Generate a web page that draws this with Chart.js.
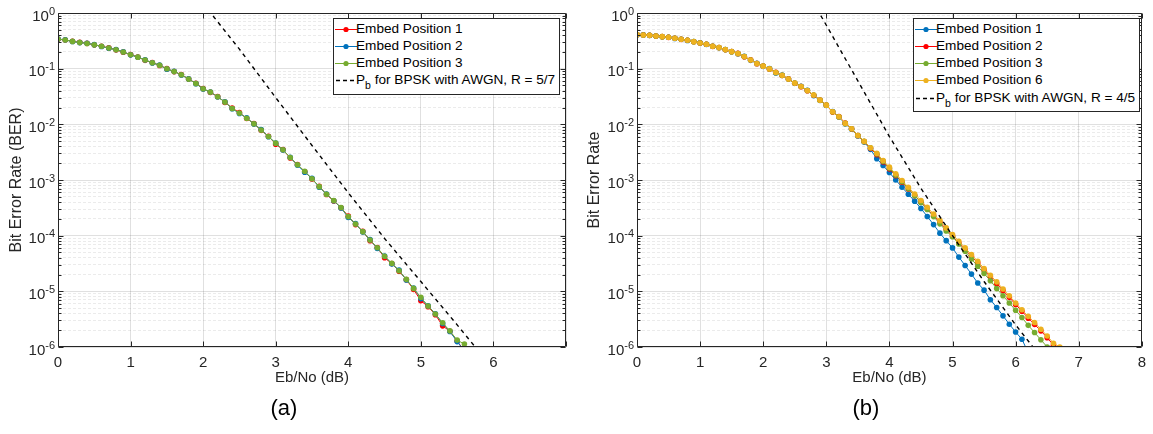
<!DOCTYPE html>
<html><head><meta charset="utf-8">
<script src="https://cdn.jsdelivr.net/npm/chart.js@4.4.1/dist/chart.umd.min.js"></script>
<style>
html,body{margin:0;padding:0;background:#fff;}
body{width:1153px;height:434px;position:relative;overflow:hidden;font-family:"Liberation Sans",Arial,sans-serif;}
canvas{position:absolute;top:0;}
.lg{position:absolute;background:#fff;border:1px solid #262626;box-sizing:border-box;}
.row{position:absolute;left:0;height:18px;line-height:18px;font-size:13.6px;color:#000;white-space:nowrap;}
.row svg{position:absolute;left:1px;top:0;}
.row .t{position:absolute;left:22px;top:0;}
.row sub{font-size:10.5px;vertical-align:baseline;position:relative;top:5px;}
.cap{position:absolute;top:395px;width:100px;text-align:center;font-size:22px;color:#000;}
</style></head><body>
<canvas id="ca" width="576" height="434" style="left:0"></canvas>
<canvas id="cb" width="575" height="434" style="left:578px"></canvas>
<div id="lgA" class="lg" style="left:333px;top:18px;width:227px;height:77px"></div>
<div id="lgB" class="lg" style="left:913px;top:18px;width:227px;height:94px"></div>
<div class="cap" style="left:234px">(a)</div>
<div class="cap" style="left:816px">(b)</div>
<script>
// ---------- DATA: panel (a) ----------
const ebnoA = [0,0.1,0.2,0.3,0.4,0.5,0.6,0.7,0.8,0.9,1,1.1,1.2,1.3,1.4,1.5,1.6,1.7,1.8,1.9,2,2.1,2.2,2.3,2.4,2.5,2.6,2.7,2.8,2.9,3,3.1,3.2,3.3,3.4,3.5,3.6,3.7,3.8,3.9,4,4.1,4.2,4.3,4.4,4.5,4.6,4.7,4.8,4.9,5,5.1,5.2,5.3,5.4,5.5,5.6];
const berA_pos1 = [0.338,0.328,0.311,0.297,0.285,0.268,0.252,0.236,0.218,0.198,
0.179,0.162,0.141,0.129,0.114,0.1,0.0885,0.0782,0.0652,0.0545,
0.0438,0.0375,0.0317,0.0248,0.0196,0.0163,0.0127,0.0103,0.0078,0.00612,
0.0044,0.00352,0.00248,0.0019,0.00141,0.00104,0.00077,0.000548,0.00042,0.000318,
0.000224,0.000158,0.00012,8.1e-5,6.1e-5,4.0e-5,3.15e-5,2.3e-5,1.62e-5,1.08e-5,
6.8e-6,5.3e-6,3.8e-6,2.4e-6,1.92e-6,1.28e-6,8.5e-7];
const berA_pos2 = [0.341,0.33,0.307,0.294,0.287,0.27,0.25,0.232,0.221,0.201,
0.177,0.16,0.144,0.127,0.116,0.098,0.0895,0.077,0.0655,0.0538,
0.0432,0.0382,0.031,0.0254,0.0191,0.0157,0.0131,0.0101,0.0081,0.00598,
0.00462,0.00345,0.00256,0.00184,0.00138,0.00107,0.00074,0.00056,0.000425,0.000315,
0.000212,0.000165,0.000116,8.5e-5,5.9e-5,4.3e-5,3.1e-5,2.4e-5,1.6e-5,1.15e-5,
7.4e-6,5.5e-6,3.95e-6,2.65e-6,1.9e-6,1.25e-6,8.5e-7];
const berA_pos3 = [0.34,0.327,0.309,0.296,0.284,0.268,0.253,0.234,0.219,0.199,
0.178,0.161,0.143,0.128,0.115,0.0995,0.0891,0.0776,0.0649,0.0543,
0.0435,0.0379,0.0313,0.0251,0.0193,0.0159,0.0129,0.0102,0.00787,0.00604,
0.00459,0.00348,0.00253,0.00187,0.00144,0.00105,0.00076,0.000555,0.000427,0.00032,
0.00022,0.000162,0.000118,8.38e-5,6.08e-5,4.26e-5,3.19e-5,2.35e-5,1.64e-5,1.13e-5,
7.8e-6,5.45e-6,3.91e-6,2.72e-6,1.95e-6,1.33e-6,1.13e-6];
const theoryA_x = [2.0,2.5,3.0,3.5,4.0,4.5,5.0,5.5,5.8];
const theoryA_y = [1.48,0.224,0.0302,0.00417,0.000589,8.91e-5,1.5e-5,2.5e-6,8.3e-7];

// ---------- DATA: panel (b) ----------
const ebnoB = [0,0.1,0.2,0.3,0.4,0.5,0.6,0.7,0.8,0.9,1,1.1,1.2,1.3,1.4,1.5,1.6,1.7,1.8,1.9,2,2.1,2.2,2.3,2.4,2.5,2.6,2.7,2.8,2.9,3,3.1,3.2,3.3,3.4,3.5,3.6,3.7,3.8,3.9,4,4.1,4.2,4.3,4.4,4.5,4.6,4.7,4.8,4.9,5,5.1,5.2,5.3,5.4,5.5,5.6,5.7,5.8,5.9,6,6.1,6.2,6.3,6.4,6.5,6.6,6.7];
const berB_pos1 = [0.407,0.404,0.396,0.387,0.375,0.367,0.35,0.338,0.322,0.307,
0.291,0.273,0.253,0.238,0.221,0.201,0.186,0.166,0.141,0.125,
0.11,0.1,0.084,0.0765,0.065,0.0545,0.0483,0.041,0.0328,0.0268,
0.0218,0.017,0.0135,0.0102,0.0082,0.0062,0.0048,0.00355,0.00242,0.00182,
0.00136,0.001,0.000741,0.000555,0.000417,0.000309,0.000221,0.000158,0.000111,8.13e-5,
6.03e-5,4.12e-5,2.92e-5,2.04e-5,1.41e-5,1.05e-5,7.08e-6,5.13e-6,3.63e-6,2.57e-6,
1.86e-6,1.38e-6,7.9e-7];
const berB_pos2 = [0.409,0.402,0.398,0.385,0.377,0.365,0.352,0.336,0.324,0.305,
0.289,0.275,0.251,0.24,0.219,0.203,0.188,0.164,0.144,0.123,
0.112,0.098,0.086,0.0755,0.0655,0.0548,0.0475,0.0402,0.0332,0.0274,
0.0223,0.0166,0.0138,0.0105,0.0083,0.0063,0.00492,0.0037,0.00285,0.0021,
0.00158,0.0012,0.00091,0.00069,0.000525,0.0004,0.000302,0.000229,0.000174,0.00013,
9.8e-5,7.4e-5,5.6e-5,4.25e-5,3.22e-5,2.4e-5,1.82e-5,1.38e-5,1.03e-5,7.8e-6,
5.8e-6,4.4e-6,3.3e-6,2.55e-6,1.95e-6,1.47e-6,1.08e-6,8.0e-7];
const berB_pos3 = [0.408,0.403,0.397,0.386,0.376,0.366,0.351,0.337,0.323,0.306,
0.29,0.274,0.252,0.239,0.22,0.202,0.187,0.165,0.143,0.124,
0.111,0.0991,0.0851,0.0759,0.0653,0.055,0.0479,0.0405,0.0335,0.0272,
0.0221,0.0168,0.0137,0.0104,0.00834,0.00632,0.00494,0.0038,0.00295,0.00218,
0.00163,0.00123,0.00093,0.0007,0.000525,0.000395,0.000295,0.00022,0.000163,0.000121,
9.55e-5,7.08e-5,5.25e-5,3.8e-5,2.82e-5,2.09e-5,1.55e-5,1.12e-5,8.32e-6,6.17e-6,
4.57e-6,3.39e-6,2.45e-6,1.82e-6,1.35e-6,1.0e-6];
const berB_pos6 = [0.408,0.403,0.397,0.386,0.376,0.366,0.351,0.337,0.323,0.306,
0.29,0.274,0.252,0.239,0.22,0.202,0.187,0.165,0.143,0.124,
0.111,0.0991,0.0851,0.0759,0.0653,0.055,0.0479,0.0405,0.0335,0.0272,
0.0221,0.0168,0.0137,0.0104,0.00834,0.00632,0.00494,0.0038,0.00302,0.00224,
0.0017,0.00129,0.000977,0.000741,0.000562,0.000427,0.000324,0.000245,0.000186,0.000138,
0.000105,7.94e-5,6.03e-5,4.57e-5,3.47e-5,2.57e-5,1.95e-5,1.48e-5,1.1e-5,8.32e-6,
6.17e-6,4.68e-6,3.55e-6,2.75e-6,2.09e-6,1.58e-6,1.17e-6,1.0e-6];
const theoryB_x = [2.85,3.0,3.5,4.0,4.5,5.0,5.5,6.0,6.3];
const theoryB_y = [1.2,0.603,0.0603,0.00603,0.000708,1.0e-4,1.5e-5,2.5e-6,9.2e-7];

// tick decades and labels
const decades = [1e-6,1e-5,1e-4,1e-3,1e-2,1e-1,1];
const xTicksA = [0,1,2,3,4,5,6,7];
const xTicksB = [0,1,2,3,4,5,6,7,8];

// ---------- STYLE ----------
const FONT = '"Liberation Sans", Arial, sans-serif';
const AX = '#262626';
const C = {blue:'#0072BD', red:'#FF0000', green:'#77AC30', orange:'#EDB120'};
Chart.defaults.font.family = FONT;
Chart.defaults.color = AX;

const isDecade = v => Math.abs(Math.log10(v) - Math.round(Math.log10(v))) < 1e-9;

function pts(xs, ys){ return ys.map((v,i)=>({x:xs[i], y:v})); }
function series(label, xs, ys, color, order){
  return {label, data:pts(xs,ys), borderColor:color, backgroundColor:color,
    pointBackgroundColor:color, pointBorderColor:color, pointRadius:2.8, pointBorderWidth:0,
    borderWidth:1, tension:0, order};
}
function theory(label, xs, ys){
  return {label, data:pts(xs,ys), borderColor:'#000', borderWidth:1.4, borderDash:[4,4],
    pointRadius:0, tension:0, order:0};
}

const matlabAxes = {
  id:'matlabAxes',
  afterDraw(chart){
    const {ctx, chartArea:a, scales:{x,y}} = chart;
    ctx.save();
    ctx.strokeStyle = AX; ctx.lineWidth = 1;
    const L = Math.round(a.left)+0.5, R = Math.round(a.right)-0.5, T = Math.round(a.top)+0.5, B = Math.round(a.bottom)-0.5;
    ctx.beginPath();
    ctx.moveTo(L,T); ctx.lineTo(R,T); ctx.lineTo(R,B); ctx.lineTo(L,B); ctx.closePath();
    for (const t of x.ticks){
      const px = Math.round(x.getPixelForValue(t.value))+0.5;
      ctx.moveTo(px,B); ctx.lineTo(px,B-5); ctx.moveTo(px,T); ctx.lineTo(px,T+5);
    }
    for (const t of y.ticks){
      const len = isDecade(t.value) ? 5 : 3;
      const py = Math.round(y.getPixelForValue(t.value))+0.5;
      ctx.moveTo(L,py); ctx.lineTo(L+len,py); ctx.moveTo(R,py); ctx.lineTo(R-len,py);
    }
    ctx.stroke();
    // y tick labels 10^k
    ctx.fillStyle = AX; ctx.textAlign = 'right'; ctx.textBaseline = 'alphabetic';
    for (const d of decades){
      const e = String(Math.round(Math.log10(d)));
      const py = y.getPixelForValue(d);
      const xr = a.left - 3;
      ctx.font = '11px ' + FONT;
      const ew = ctx.measureText(e).width;
      ctx.fillText(e, xr, py + 1.5);
      ctx.font = '15px ' + FONT;
      ctx.fillText('10', xr - ew, py + 7.5);
    }
    ctx.restore();
  }
};

function makeChart(id, xTicks, xmax, datasets, yTitle, plotLeft, padRight){
  return new Chart(document.getElementById(id), {
    type:'line',
    data:{datasets},
    options:{
      responsive:false, animation:false, events:[],
      layout:{padding:{top:13, right:padRight, left:0, bottom:0}},
      plugins:{legend:{display:false}, tooltip:{enabled:false}},
      scales:{
        x:{type:'linear', min:0, max:xmax,
          afterBuildTicks(s){ s.ticks = xTicks.map(v=>({value:v})); },
          afterFit(s){ s.height = 87; },
          grid:{color:'rgba(38,38,38,0.14)', drawTicks:false, lineWidth:1},
          border:{display:false},
          ticks:{autoSkip:false, maxRotation:0, padding:7, color:AX, font:{size:15},
            callback:(v)=> (xTicks === xTicksA && v===7) ? '' : String(v)},
          title:{display:true, text:'Eb/No (dB)', color:AX, font:{size:15}, padding:{bottom:47}}
        },
        y:{type:'logarithmic', min:1e-6, max:1,
          afterBuildTicks(s){
            const t=[];
            decades.forEach((d,i)=>{ if(i<decades.length-1){ for(let m=1;m<10;m++) t.push({value:d*m}); } else t.push({value:d}); });
            s.ticks = t;
          },
          afterFit(s){ s.width = plotLeft; },
          grid:{drawTicks:false, lineWidth:1,
            color:(c)=> (c.tick && isDecade(c.tick.value)) ? 'rgba(38,38,38,0.14)' : 'rgba(38,38,38,0.09)'},
          border:{display:false, dash:(c)=> (c.tick && !isDecade(c.tick.value)) ? [3,2] : []},
          ticks:{display:false},
          title:{display:true, text:yTitle, color:AX, font:{size:16}, padding:{top:7}}
        }
      }
    },
    plugins:[matlabAxes]
  });
}

makeChart('ca', xTicksA, 7, [
  series('Embed Position 1', ebnoA, berA_pos1, C.red, 3),
  series('Embed Position 2', ebnoA, berA_pos2, C.blue, 2),
  series('Embed Position 3', ebnoA, berA_pos3, C.green, 1),
  theory('Pb for BPSK with AWGN, R = 5/7', theoryA_x, theoryA_y)
], 'Bit Error Rate (BER)', 58, 10);

makeChart('cb', xTicksB, 8, [
  series('Embed Position 1', ebnoB, berB_pos1, C.blue, 4),
  series('Embed Position 2', ebnoB, berB_pos2, C.red, 3),
  series('Embed Position 3', ebnoB, berB_pos3, C.green, 2),
  series('Embed Position 6', ebnoB, berB_pos6, C.orange, 1),
  theory('Pb for BPSK with AWGN, R = 4/5', theoryB_x, theoryB_y)
], 'Bit Error Rate', 59, 8);

// ---------- legends ----------
function buildLegend(id, items){
  const box = document.getElementById(id);
  items.forEach((it,i)=>{
    const row = document.createElement('div');
    row.className = 'row';
    row.style.top = (0.5 + i*17.3) + 'px';
    const svg = it.dashed
      ? '<svg width="22" height="18"><line x1="1" y1="9.5" x2="21" y2="9.5" stroke="#000" stroke-width="1.3" stroke-dasharray="4,3"/></svg>'
      : `<svg width="22" height="18"><line x1="0" y1="9.5" x2="22" y2="9.5" stroke="${it.color}" stroke-width="1"/><circle cx="11" cy="9.5" r="2.6" fill="${it.color}"/></svg>`;
    row.innerHTML = svg + '<span class="t">' + it.html + '</span>';
    box.appendChild(row);
  });
}
buildLegend('lgA', [
  {color:C.red, html:'Embed Position 1'},
  {color:C.blue, html:'Embed Position 2'},
  {color:C.green, html:'Embed Position 3'},
  {dashed:true, html:'P<sub>b</sub> for BPSK with AWGN, R = 5/7'}
]);
buildLegend('lgB', [
  {color:C.blue, html:'Embed Position 1'},
  {color:C.red, html:'Embed Position 2'},
  {color:C.green, html:'Embed Position 3'},
  {color:C.orange, html:'Embed Position 6'},
  {dashed:true, html:'P<sub>b</sub> for BPSK with AWGN, R = 4/5'}
]);
</script>
</body></html>
